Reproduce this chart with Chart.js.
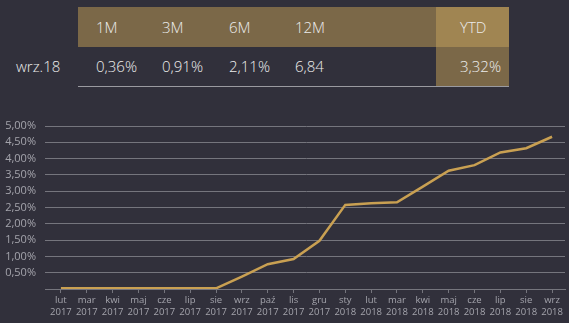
<!DOCTYPE html>
<html><head><meta charset="utf-8">
<script src="https://cdn.jsdelivr.net/npm/chart.js@4/dist/chart.umd.min.js"></script>
<style>
html,body{margin:0;padding:0;background:#31303b;width:569px;height:323px;overflow:hidden;font-family:"Open Sans",sans-serif;color:#ececec}
.abs{position:absolute}
.t{position:absolute;font-size:15px;line-height:20px;white-space:nowrap;font-weight:300}
#wrap{position:absolute;left:0;top:100px;width:569px;height:223px}
</style></head><body>
<div class="abs" style="left:78px;top:7px;width:358px;height:40px;background:#7b6848"></div>
<div class="abs" style="left:436px;top:7px;width:73px;height:40px;background:#a08552"></div>
<div class="abs" style="left:436px;top:47px;width:73px;height:39px;background:#7b6848"></div>
<div class="abs" style="left:78px;top:86px;width:431px;height:1px;background:#9a9aa0"></div>
<div id="table"></div>
<div id="wrap"><canvas id="c"></canvas></div>
<script>
const headers = ['1M','3M','6M','12M','YTD'];
const rowLabel = 'wrz.18';
const rowValues = ['0,36%','0,91%','2,11%','6,84','3,32%'];
const categories = ['lut 2017','mar 2017','kwi 2017','maj 2017','cze 2017','lip 2017','sie 2017','wrz 2017','paź 2017','lis 2017','gru 2017','sty 2018','lut 2018','mar 2018','kwi 2018','maj 2018','cze 2018','lip 2018','sie 2018','wrz 2018'];
const returns = [0.02,0.02,0.02,0.02,0.02,0.02,0.02,0.38,0.76,0.92,1.48,2.58,2.63,2.66,3.14,3.63,3.80,4.19,4.32,4.67];
const yTicks = [0.5,1,1.5,2,2.5,3,3.5,4,4.5,5];

const colX = [96,162,229,295,460];
const tbl = document.getElementById('table');
function addText(txt,x,y){const d=document.createElement('div');d.className='t';d.style.left=x+'px';d.style.top=y+'px';d.textContent=txt;tbl.appendChild(d);}
headers.forEach((h,i)=>addText(h,colX[i],17));
addText(rowLabel,16,56);
rowValues.forEach((v,i)=>addText(v,colX[i],56));

const grey = '#75757d';
new Chart(document.getElementById('c'),{
  type:'line',
  data:{labels:categories.map(c=>c.split(' ')),datasets:[{data:returns,borderColor:'#c9a052',borderWidth:2.5,pointRadius:0,tension:0,fill:false}]},
  options:{
    responsive:true,maintainAspectRatio:false,animation:false,
    layout:{padding:{top:26,right:4,left:0,bottom:0}},
    plugins:{legend:{display:false},tooltip:{enabled:false}},
    scales:{
      x:{offset:true,
        grid:{display:true,drawOnChartArea:false,color:grey,tickLength:4,tickColor:grey},
        border:{color:grey,width:1},
        ticks:{color:'#a4a4ac',font:{family:'Open Sans',size:9.5},maxRotation:0,autoSkip:false,padding:2},
        afterFit:s=>{s.height=34;}
      },
      y:{min:0,max:5,
        afterBuildTicks:s=>{s.ticks=[0].concat(yTicks).map(v=>({value:v}));},
        grid:{color:grey,lineWidth:1,tickLength:3,tickColor:grey,drawTicks:true},
        border:{display:false},
        ticks:{color:'#a4a4ac',font:{family:'Open Sans',size:11},padding:9,
          callback:v=>v===0?'':v.toFixed(2).replace('.',',')+'%'},
        afterFit:s=>{s.width=48;}
      }
    }
  }
});
</script>
</body></html>
